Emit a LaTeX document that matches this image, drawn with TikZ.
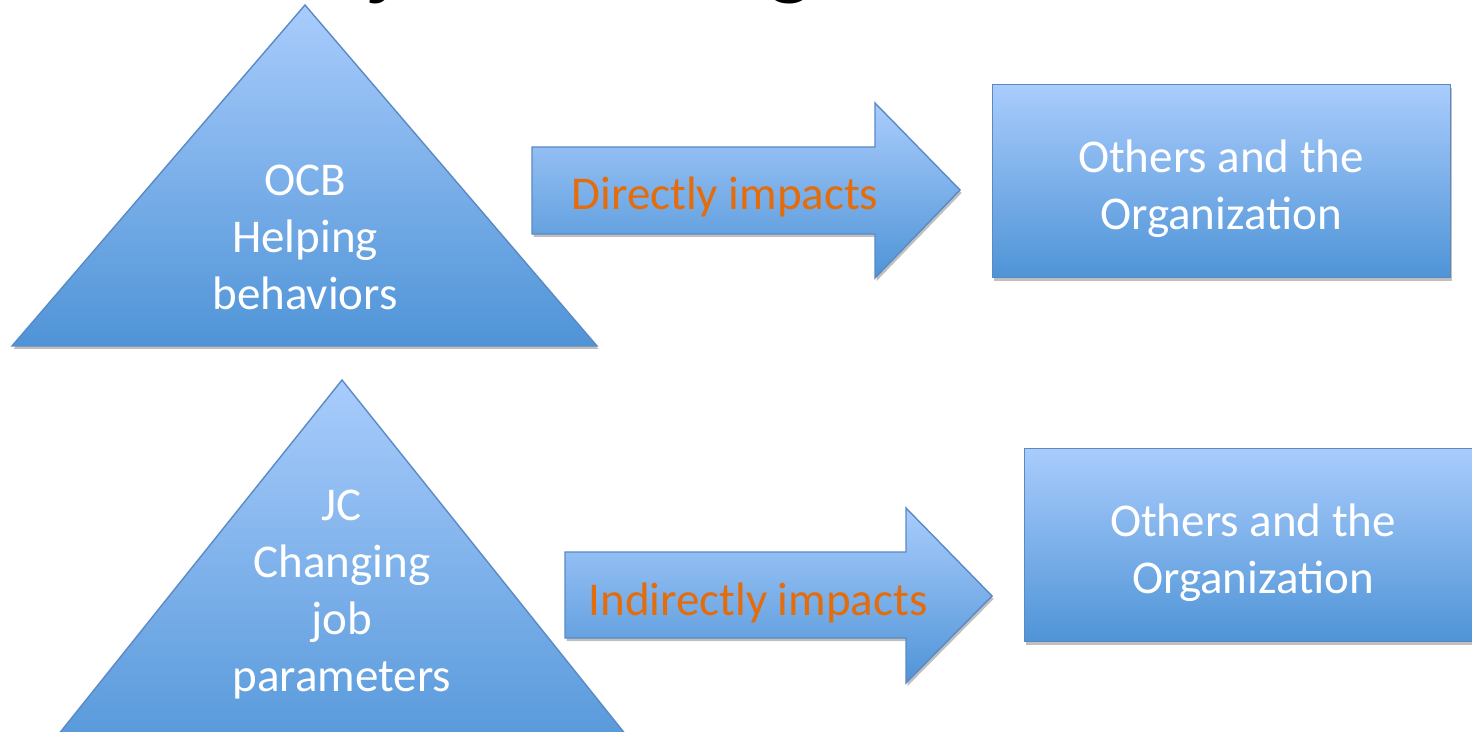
\documentclass[tikz,border=0pt]{standalone}
\usepackage{fontspec}
\setmainfont{Carlito}
\usetikzlibrary{shadows}
\definecolor{topblue}{HTML}{A9CCFC}
\definecolor{botblue}{HTML}{4F94D7}
\definecolor{edgeblue}{HTML}{5A8AC6}
\definecolor{orangetxt}{HTML}{E46C0A}
\begin{document}
\begin{tikzpicture}[x=0.5pt,y=-0.5pt,
  blueshape/.style={draw=edgeblue, line width=0.7pt, top color=topblue, bottom color=botblue,
    drop shadow={shadow xshift=0.8pt, shadow yshift=-1.5pt, opacity=0.25, fill=black}},
  boxshape/.style={blueshape, rectangle, inner sep=0pt, minimum width=229pt, minimum height=96.5pt, anchor=north west},
  lbl/.style={text=white, align=center, inner sep=0pt, font=\fontsize{23.5}{28.5}\selectfont},
  arrowlbl/.style={text=orangetxt, inner sep=0pt, font=\fontsize{23.5}{28.5}\selectfont}]
\clip (0,0) rectangle (1472,732);
\fill[white] (0,0) rectangle (1472,732);
% partial title text at the top edge
\node[anchor=base west, inner sep=0pt, font=\fontsize{48}{56}\selectfont] (title) at (372,-12.5) {job crafting,};
% top row
\path[blueshape] (305,5) -- (597,346) -- (12,346) -- cycle;
\node[lbl] (ocb) at (305,237) {OCB\\Helping\\behaviors};
\path[blueshape] (532,147) -- (875,147) -- (875,103) -- (960,190) -- (875,278) -- (875,234) -- (532,234) -- cycle;
\node[arrowlbl] (direct) at (725,197) {Directly impacts};
\node[boxshape] (box1) at (992,84) {};
\node[lbl] (org1) at (1221,189) {Others and the\\Organization};
% bottom row
\path[blueshape] (342,380) -- (662,780) -- (22,780) -- cycle;
\node[lbl] (jc) at (342,595) {JC\\Changing\\job\\parameters};
\path[blueshape] (565,552) -- (906,552) -- (906,508) -- (992,596) -- (906,683) -- (906,638) -- (565,638) -- cycle;
\node[arrowlbl] (indirect) at (758,603) {Indirectly impacts};
\node[boxshape] (box2) at (1024,448) {};
\node[lbl] (org2) at (1253,553) {Others and the\\Organization};
\end{tikzpicture}
\end{document}
